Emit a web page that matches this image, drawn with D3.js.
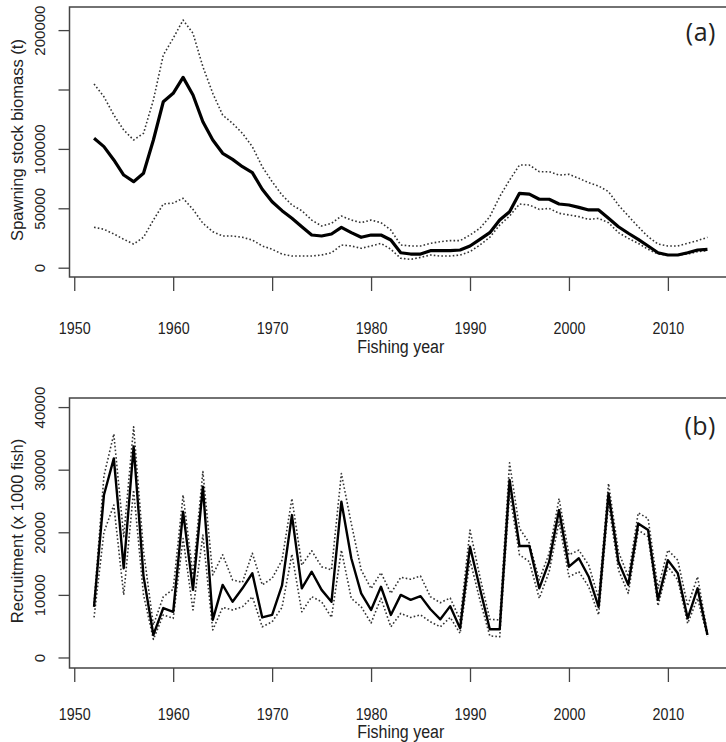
<!DOCTYPE html>
<html>
<head>
<meta charset="utf-8">
<script src="https://cdn.jsdelivr.net/npm/d3@7/dist/d3.min.js"></script>
<style>
  html, body { margin: 0; padding: 0; background: #fff; }
  svg { display: block; }
  text { font-family: "Liberation Sans", Arial, Helvetica, sans-serif; fill: #222; }
</style>
</head>
<body>
<svg id="chart" width="726" height="742"></svg>
<script>
// ---------------- data ----------------
const years = [1952,1953,1954,1955,1956,1957,1958,1959,1960,1961,1962,1963,1964,1965,1966,1967,1968,1969,1970,1971,1972,1973,1974,1975,1976,1977,1978,1979,
  1980,1981,1982,1983,1984,1985,1986,1987,1988,1989,1990,1991,1992,1993,1994,1995,1996,1997,1998,1999,2000,2001,2002,2003,2004,2005,2006,2007,2008,2009,2010,2011,2012,2013,2014];

const ssb = [108900,101900,90700,78000,72400,79500,107500,139700,146800,160200,145400,122900,107500,96300,91200,85000,80000,66000,55500,48000,41600,34500,27500,26700,28400,34000,29500,25600,
  27500,27500,23300,12600,11500,11500,14300,14300,14300,14900,18300,23900,29500,40100,47100,62600,62000,57600,57600,53600,52800,50800,48600,48600,41600,34500,29000,23900,18300,12600,10700,10700,12600,14900,15500];
const ssbUpper = [154600,143900,128500,115900,107500,113100,141200,179000,193100,208500,197300,169200,146800,128500,121500,113100,101900,85000,72400,61200,52800,48000,40100,35100,37400,43500,40100,37900,
  40100,37900,31700,19100,18300,18300,20500,21900,22800,22800,27500,33200,42900,59800,73800,86400,86400,80800,80800,78000,78600,75200,71600,68800,64000,52800,43500,34500,26100,19900,18300,18300,20500,22800,25600];
const ssbLower = [34000,32300,28400,23900,19900,25600,40100,53600,54400,58400,49100,37400,30300,26700,26700,25600,23300,18300,15500,11500,9800,9800,9800,10700,12600,19100,18300,16300,
  18300,20500,15500,7900,7000,8700,10700,9800,9800,10700,13500,19100,25600,35900,43500,53600,52800,49100,49900,45800,44400,43000,40700,41500,37900,29500,24700,20500,15500,11500,10700,10700,11500,13500,14300];

const rec = [8100,25950,31800,14250,33700,13000,3600,7900,7300,23300,10800,27300,6000,11600,8900,11050,13450,6400,6800,11500,22750,11050,13700,10800,8900,24900,15850,10250,
  7600,11300,6800,10000,9200,9800,7700,6100,8200,4650,17700,11050,4500,4500,28350,17800,17800,11050,15300,23550,14500,15850,12900,8100,26200,15300,11600,21400,20350,9200,15550,13450,6250,11050,3600];
const recUpper = [8700,29000,35700,19300,36850,17000,5200,9700,10900,25950,13200,29700,13200,16400,12400,12000,16650,11600,12650,15550,25400,14750,17050,14500,14000,29400,21400,14000,
  11000,13550,10250,12800,12500,13000,9700,8750,9500,6000,20350,12900,6100,6000,31100,20650,18250,12400,16650,25400,16400,17150,14750,9450,27800,16900,12900,23100,22200,11050,17150,15550,8250,12900,3900];
const recLower = [6400,20000,24350,10000,26750,10000,2900,6800,6250,19000,7600,19550,4400,8000,7600,8100,9700,4900,5700,8000,16500,7300,9700,8900,6400,17150,9450,8100,
  5500,9450,4900,7050,6400,6800,5700,4900,6400,3850,15550,9200,3450,3300,26200,16400,15300,9450,13700,21700,12900,13700,11300,6800,24600,14000,10250,20350,19300,8250,14500,12400,5450,9450,3300];

const xTicks = [1950,1960,1970,1980,1990,2000,2010];
const ssbTicks = [0,50000,100000,150000,200000];
const ssbTickLabels = ["0","50000","100000","","200000"];
const recTicks = [0,10000,20000,30000,40000];
const recTickLabels = ["0","10000","20000","30000","40000"];

// ---------------- layout ----------------
const svg = d3.select("#chart");
const W = 726;
const plotLeft = 69.5, plotRight = 732;

const x = d3.scaleLinear().domain([1949.52, 2016.48]).range([plotLeft, plotRight]);

const panels = [
  { top: 7, bottom: 277, yDomain: [-7830, 219450], mid: years.map((d,i)=>({yr:d, v:ssb[i]})),
    up: years.map((d,i)=>({yr:d, v:ssbUpper[i]})), lo: years.map((d,i)=>({yr:d, v:ssbLower[i]})),
    ticks: ssbTicks, tickLabels: ssbTickLabels, ylab: "Spawning stock biomass (t)", tag: "(a)", tagY: 41, midW: 3.2,
    labOff: 51, titleOff: 70 },
  { top: 398, bottom: 668, yDomain: [-1680, 41450], mid: years.map((d,i)=>({yr:d, v:rec[i]})),
    up: years.map((d,i)=>({yr:d, v:recUpper[i]})), lo: years.map((d,i)=>({yr:d, v:recLower[i]})),
    ticks: recTicks, tickLabels: recTickLabels, ylab: "Recruitment (x 1000 fish)", tag: "(b)", tagY: 435, midW: 2.4,
    labOff: 46, titleOff: 64 }
];

panels.forEach(p => {
  const y = d3.scaleLinear().domain(p.yDomain).range([p.bottom, p.top]);
  const g = svg.append("g");

  // box (right edge lies outside the window)
  g.append("path")
    .attr("d", `M${W},${p.top}H${plotLeft}V${p.bottom}H${W}`)
    .attr("fill", "none").attr("stroke", "#444").attr("stroke-width", 1.5);

  const line = d3.line().x(d => x(d.yr)).y(d => y(d.v));

  [p.up, p.lo].forEach(s => {
    g.append("path").datum(s).attr("d", line)
      .attr("fill", "none").attr("stroke", "#333").attr("stroke-width", 1.6)
      .attr("stroke-dasharray", "1.6,2.2").attr("stroke-linejoin", "round");
  });
  g.append("path").datum(p.mid).attr("d", line)
    .attr("fill", "none").attr("stroke", "#000").attr("stroke-width", p.midW)
    .attr("stroke-linejoin", "round");

  // x axis
  const xa = g.append("g").attr("transform", `translate(0,${p.bottom})`)
    .call(d3.axisBottom(x).tickValues(xTicks).tickFormat(d3.format("d")).tickSize(14).tickSizeOuter(0));
  xa.select(".domain").remove();
  xa.selectAll(".tick line").attr("stroke", "#444").attr("stroke-width", 1.3);
  xa.selectAll(".tick text")
    .attr("y", null).attr("dy", null)
    .attr("transform", `translate(0,${p.labOff}) scale(1,1.12)`)
    .attr("dominant-baseline", "central")
    .style("font-size", "14.3px").attr("fill", "#222");

  // y axis
  const ya = g.append("g").attr("transform", `translate(${plotLeft},0)`)
    .call(d3.axisLeft(y).tickValues(p.ticks).tickFormat((d,i) => p.tickLabels[i]).tickSize(11).tickSizeOuter(0));
  ya.select(".domain").remove();
  ya.selectAll(".tick line").attr("stroke", "#444").attr("stroke-width", 1.3);
  ya.selectAll(".tick text")
    .attr("transform", "rotate(-90)")
    .attr("x", 0).attr("y", -30).attr("dy", "0.35em")
    .attr("text-anchor", "middle")
    .style("font-size", "15px").attr("fill", "#222");

  // axis titles
  g.append("text")
    .attr("transform", `translate(17,${(p.top + p.bottom) / 2 - 2}) rotate(-90)`)
    .attr("text-anchor", "middle").attr("dy", "0.35em")
    .style("font-size", "16.5px").text(p.ylab);
  g.append("text")
    .attr("transform", `translate(${(plotLeft + plotRight) / 2},${p.bottom + p.titleOff}) scale(1,1.1)`)
    .attr("dominant-baseline", "central")
    .attr("text-anchor", "middle").style("font-size", "16px").text("Fishing year");

  // panel tag
  g.append("text")
    .attr("x", 716).attr("y", p.tagY).attr("text-anchor", "end")
    .style("font-family", "'Open Sans', Lato, sans-serif").style("font-size", "25px")
    .style("letter-spacing", "0.5px")
    .text(p.tag);
});
</script>
</body>
</html>
